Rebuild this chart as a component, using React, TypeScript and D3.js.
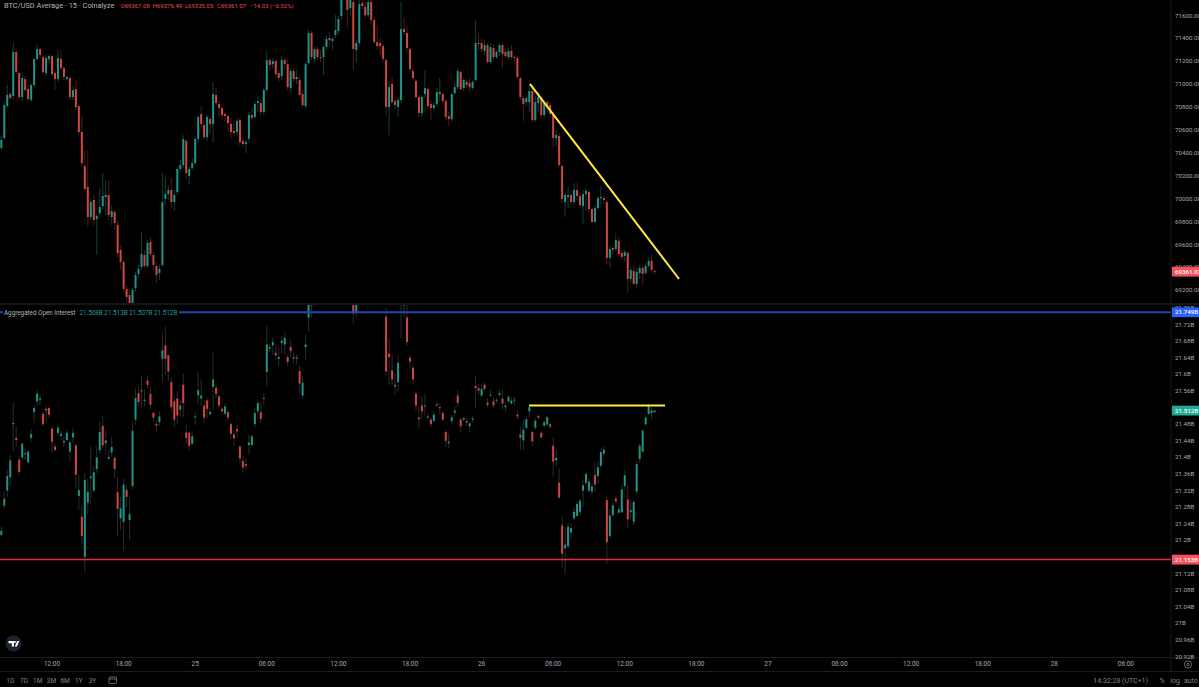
import React from "react";
import * as d3 from "d3";

type Ohlc = [number, number, number, number];

const WIDTH = 1199;
const HEIGHT = 687;

// open, high, low, close of each 15 minute bar
const priceBars: Ohlc[] = [
  [70440,70545,70422,70510],[70527,70840,70510,70815],[70807,70990,70789,70903],[70911,70930,70860,70876],[70894,71365,70860,71278],
  [71278,71295,71086,71103],[71095,71105,70860,70885],[70885,71103,70850,71051],[71042,71068,70930,70946],[70955,70990,70850,70868],
  [70859,71007,70841,70990],[70990,71226,70964,71217],[71217,71348,71208,71304],[71304,71322,71226,71252],[71234,71252,71086,71103],
  [71095,71252,71068,71226],[71217,71261,71191,71243],[71243,71252,71068,71086],[71095,71121,70946,71042],[71042,71295,71016,71226],
  [71217,71295,71121,71138],[71138,71156,71034,71060],[71042,71077,71025,71060],[71051,71068,70859,70885],[70885,70981,70859,70946],
  [70955,71034,70772,70798],[70807,70824,70562,70580],[70580,70728,70291,70309],[70283,70422,70073,70082],[70100,70422,69750,69837],
  [69837,70003,69811,69968],[69986,70030,69768,69811],[69820,69863,69506,69846],[69872,70090,69855,69925],[69933,70222,69899,70021],
  [70012,70160,69855,70030],[70030,70160,69811,69855],[69837,69942,69768,69890],[69881,69899,69724,69785],[69768,69811,69480,69523],
  [69550,69593,69375,69445],[69445,69462,69183,69209],[69209,69244,69095,69139],[69157,69200,69025,69060],[69060,69218,69043,69200],
  [69218,69358,69183,69331],[69340,69419,69305,69384],[69401,69707,69375,69515],[69506,69550,69393,69410],[69410,69637,69393,69610],
  [69620,69663,69497,69515],[69506,69532,69375,69419],[69410,69445,69262,69331],[69349,69419,69288,69384],[69419,70222,69401,69968],
  [69995,70186,69942,70038],[70038,70117,69986,70073],[70073,70178,69916,69968],[69968,70073,69890,70030],[70056,70274,70030,70257],
  [70257,70335,70230,70291],[70291,70553,70265,70519],[70501,70519,70169,70222],[70195,70283,70125,70257],[70266,70353,70248,70309],
  [70309,70545,70291,70519],[70519,70728,70492,70711],[70737,70807,70615,70650],[70641,70684,70519,70536],[70536,70728,70501,70711],
  [70693,70719,70562,70650],[70650,71016,70492,70911],[70903,70964,70807,70833],[70824,70859,70711,70789],[70789,70807,70684,70728],
  [70737,70754,70658,70719],[70719,70728,70580,70658],[70650,70702,70527,70580],[70588,70667,70545,70571],[70580,70702,70545,70676],
  [70684,70711,70457,70492],[70501,70527,70440,70475],[70475,70510,70396,70492],[70519,70754,70492,70728],[70728,70789,70684,70702],
  [70711,70850,70693,70824],[70833,70894,70754,70850],[70833,70859,70719,70754],[70754,70964,70728,70946],[70946,71295,70929,71208],
  [71208,71226,71121,71165],[71173,71226,71138,71199],[71199,71217,71051,71086],[71095,71121,71016,71051],[71068,71243,71034,71208],
  [71208,71234,71121,71173],[71173,71217,70946,70972],[70964,71138,70929,71112],[71112,71138,71016,71042],[71042,71121,70999,71060],
  [71034,71068,70885,70903],[70911,70946,70798,70815],[70807,71191,70789,71173],[71182,71470,71165,71444],[71444,71461,71208,71234],
  [71217,71330,71191,71304],[71304,71322,71208,71234],[71234,71295,71191,71226],[71234,71339,71077,71322],[71322,71426,71295,71392],
  [71400,71453,71339,71383],[71374,71409,71295,71392],[71426,71601,71400,71470],[71461,71601,71435,71566],[71592,71837,71557,71802],
  [71819,71860,71750,71758],[71749,71802,71488,71645],[71662,71802,71601,71758],[71715,71776,71121,71304],[71295,71383,71182,71357],
  [71357,71732,71330,71697],[71706,71767,71653,71680],[71671,71715,71575,71601],[71601,71758,71575,71715],[71715,71732,71514,71557],
  [71557,71584,71348,71365],[71365,71514,71295,71330],[71357,71400,71252,71330],[71330,71348,71191,71217],[71208,71226,70728,70798],
  [70798,71016,70553,70972],[70999,71060,70824,70841],[70850,70868,70772,70815],[70798,70885,70711,70859],[70859,71715,70833,71479],
  [71479,71584,71426,71453],[71444,71514,71278,71313],[71304,71322,71103,71130],[71112,71130,71034,71051],[71025,71042,70859,70885],
  [70885,70903,70711,70745],[70745,70903,70711,70885],[70911,71121,70876,70964],[70955,70972,70772,70807],[70824,70859,70684,70789],
  [70789,70841,70763,70815],[70824,70964,70807,70929],[70911,71051,70841,70929],[70911,70929,70833,70850],[70850,70868,70684,70711],
  [70719,70754,70632,70693],[70693,70920,70676,70911],[70920,71007,70903,70972],[70972,71130,70946,71112],[71103,71121,70938,70955],
  [70964,71051,70938,71034],[71016,71042,70964,70990],[71007,71051,70929,70972],[70964,71034,70946,71016],[71034,71557,71016,71357],
  [71357,71444,71295,71348],[71357,71400,71278,71304],[71287,71383,71252,71339],[71339,71357,71173,71191],[71191,71357,71173,71322],
  [71313,71348,71208,71234],[71234,71295,71217,71278],[71278,71357,71243,71339],[71339,71357,71138,71261],[71278,71304,71226,71243],
  [71234,71322,71208,71287],[71287,71339,71217,71234],[71234,71252,71191,71226],[71226,71243,71042,71060],[71051,71068,70859,70885],
  [70876,70894,70676,70824],[70841,70903,70807,70876],[70841,71000,70754,70938],[70938,70964,70667,70684],[70684,70894,70667,70841],
  [70833,70929,70754,70885],[70876,70894,70702,70728],[70728,70859,70711,70833],[70841,70859,70745,70807],[70815,70841,70702,70737],
  [70737,70754,70448,70527],[70527,70597,70457,70553],[70545,70571,70274,70291],[70283,70291,69960,69995],[69968,70047,69837,70030],
  [70012,70100,69916,70030],[70030,70073,69942,69968],[69968,70134,69942,70073],[70073,70134,69986,70021],[70021,70047,69916,69942],
  [69933,70073,69776,70038],[70038,70090,69899,70065],[70056,70073,69881,69907],[69907,69925,69785,69794],[69794,69942,69785,69916],
  [69916,70021,69899,70003],[70003,70108,69942,70012],[70003,70021,69951,69986],[69968,69986,69419,69480],[69480,69585,69393,69558],
  [69567,69593,69506,69550],[69558,69698,69532,69637],[69628,69663,69497,69515],[69523,69550,69462,69488],[69497,69550,69445,69532],
  [69523,69541,69174,69296],[69296,69401,69262,69375],[69366,69410,69244,69253],[69253,69393,69218,69358],[69349,69419,69296,69393],
  [69393,69410,69244,69340],[69349,69436,69331,69410],[69410,69480,69393,69454],[69454,69506,69349,69375],[69367.08,69376.49,69335.05,69361.07],
];

const oiBars: Ohlc[] = [
  [21.212,21.232,21.209,21.222],[21.283,21.317,21.276,21.299],[21.319,21.369,21.304,21.354],[21.351,21.405,21.329,21.392],[21.479,21.532,21.413,21.482],
  [21.446,21.474,21.425,21.441],[21.393,21.401,21.357,21.364],[21.399,21.435,21.393,21.432],[21.407,21.421,21.393,21.409],[21.387,21.417,21.385,21.413],
  [21.446,21.467,21.437,21.455],[21.508,21.526,21.482,21.518],[21.534,21.562,21.524,21.553],[21.538,21.550,21.524,21.541],[21.504,21.510,21.474,21.479],
  [21.516,21.522,21.482,21.512],[21.518,21.522,21.494,21.502],[21.468,21.474,21.411,21.437],[21.425,21.433,21.413,21.417],[21.458,21.478,21.451,21.471],
  [21.451,21.462,21.441,21.456],[21.435,21.450,21.425,21.439],[21.441,21.466,21.437,21.458],[21.413,21.440,21.389,21.435],[21.447,21.470,21.433,21.458],
  [21.428,21.432,21.325,21.357],[21.306,21.357,21.272,21.320],[21.256,21.284,21.188,21.210],[21.159,21.361,21.121,21.345],[21.290,21.349,21.264,21.316],
  [21.349,21.425,21.288,21.353],[21.319,21.377,21.314,21.363],[21.371,21.425,21.361,21.399],[21.416,21.486,21.408,21.460],[21.475,21.500,21.421,21.428],
  [21.433,21.466,21.405,21.440],[21.396,21.417,21.393,21.400],[21.411,21.448,21.401,21.424],[21.398,21.401,21.349,21.371],[21.315,21.353,21.209,21.275],
  [21.252,21.304,21.224,21.276],[21.244,21.349,21.174,21.333],[21.321,21.333,21.280,21.304],[21.248,21.304,21.201,21.262],[21.330,21.486,21.321,21.463],
  [21.490,21.566,21.478,21.542],[21.554,21.569,21.522,21.532],[21.561,21.596,21.520,21.558],[21.535,21.562,21.522,21.538],[21.584,21.596,21.566,21.574],
  [21.552,21.566,21.514,21.526],[21.506,21.510,21.486,21.495],[21.479,21.490,21.462,21.475],[21.484,21.510,21.475,21.498],[21.637,21.699,21.579,21.657],
  [21.669,21.714,21.599,21.637],[21.645,21.647,21.583,21.606],[21.581,21.591,21.510,21.520],[21.534,21.546,21.472,21.490],[21.541,21.558,21.478,21.500],
  [21.514,21.538,21.498,21.524],[21.574,21.601,21.496,21.530],[21.459,21.478,21.433,21.446],[21.458,21.462,21.417,21.427],[21.432,21.462,21.429,21.450],
  [21.496,21.510,21.478,21.498],[21.549,21.604,21.526,21.561],[21.541,21.587,21.522,21.548],[21.524,21.538,21.483,21.495],[21.536,21.542,21.494,21.516],
  [21.503,21.518,21.498,21.509],[21.569,21.655,21.514,21.587],[21.567,21.574,21.542,21.552],[21.546,21.550,21.518,21.524],[21.516,21.522,21.502,21.510],
  [21.504,21.529,21.498,21.522],[21.508,21.514,21.490,21.495],[21.479,21.483,21.446,21.456],[21.454,21.466,21.425,21.445],[21.467,21.478,21.446,21.462],
  [21.425,21.429,21.385,21.397],[21.390,21.401,21.362,21.375],[21.383,21.395,21.369,21.379],[21.429,21.454,21.405,21.435],[21.429,21.454,21.425,21.450],
  [21.479,21.518,21.470,21.506],[21.510,21.538,21.502,21.530],[21.508,21.534,21.482,21.492],[21.540,21.554,21.526,21.542],[21.605,21.716,21.572,21.671],
  [21.661,21.671,21.651,21.665],[21.669,21.687,21.647,21.677],[21.651,21.671,21.635,21.645],[21.636,21.663,21.619,21.641],[21.675,21.691,21.647,21.680],
  [21.671,21.699,21.647,21.687],[21.641,21.647,21.619,21.629],[21.665,21.683,21.639,21.655],[21.637,21.651,21.623,21.640],[21.640,21.647,21.623,21.637],
  [21.607,21.619,21.554,21.577],[21.548,21.595,21.540,21.579],[21.665,21.695,21.633,21.671],[21.736,21.796,21.703,21.770],[21.765,21.788,21.738,21.769],
  [21.767,21.780,21.764,21.770],[21.79,21.81,21.78,21.80],[21.80,21.83,21.79,21.82],[21.82,21.85,21.81,21.84],[21.84,21.87,21.83,21.86],
  [21.86,21.88,21.84,21.85],[21.85,21.89,21.84,21.88],[21.88,21.91,21.87,21.90],[21.90,21.92,21.88,21.89],[21.89,21.93,21.88,21.92],
  [21.92,21.94,21.90,21.91],[21.91,21.92,21.87,21.88],[21.88,21.89,21.84,21.85],[21.776,21.784,21.720,21.746],[21.748,21.780,21.738,21.776],
  [21.79,21.82,21.785,21.81],[21.81,21.84,21.80,21.83],[21.83,21.85,21.81,21.82],[21.82,21.86,21.81,21.85],[21.85,21.87,21.83,21.84],
  [21.84,21.85,21.81,21.82],[21.82,21.83,21.80,21.81],[21.81,21.82,21.79,21.80],[21.80,21.81,21.785,21.79],[21.738,21.760,21.596,21.606],
  [21.649,21.687,21.574,21.641],[21.609,21.647,21.574,21.587],[21.574,21.603,21.550,21.570],[21.580,21.647,21.558,21.627],[21.776,21.796,21.685,21.784],
  [21.765,21.784,21.736,21.770],[21.736,21.770,21.669,21.677],[21.639,21.647,21.612,21.630],[21.615,21.623,21.577,21.587],[21.552,21.558,21.512,21.524],
  [21.495,21.522,21.468,21.491],[21.524,21.546,21.490,21.510],[21.522,21.554,21.500,21.524],[21.495,21.506,21.488,21.498],[21.490,21.496,21.472,21.479],
  [21.487,21.510,21.482,21.502],[21.527,21.534,21.520,21.524],[21.520,21.530,21.502,21.519],[21.506,21.510,21.488,21.490],[21.460,21.466,21.425,21.439],
  [21.433,21.458,21.421,21.437],[21.487,21.502,21.480,21.496],[21.507,21.522,21.498,21.512],[21.548,21.562,21.520,21.530],[21.490,21.494,21.459,21.474],
  [21.490,21.496,21.486,21.494],[21.487,21.494,21.475,21.483],[21.474,21.486,21.461,21.481],[21.490,21.500,21.483,21.493],[21.571,21.596,21.518,21.566],
  [21.566,21.577,21.550,21.560],[21.548,21.574,21.546,21.564],[21.574,21.579,21.558,21.564],[21.531,21.542,21.520,21.526],[21.549,21.562,21.545,21.550],
  [21.534,21.542,21.518,21.524],[21.537,21.542,21.529,21.538],[21.549,21.562,21.546,21.554],[21.541,21.561,21.514,21.529],[21.520,21.530,21.510,21.524],
  [21.534,21.548,21.530,21.545],[21.529,21.542,21.526,21.536],[21.537,21.545,21.526,21.538],[21.502,21.512,21.491,21.498],[21.454,21.474,21.417,21.446],
  [21.440,21.490,21.417,21.466],[21.470,21.498,21.466,21.491],[21.510,21.526,21.496,21.520],[21.460,21.464,21.425,21.438],[21.471,21.494,21.466,21.487],
  [21.499,21.502,21.490,21.495],[21.458,21.462,21.446,21.447],[21.475,21.488,21.472,21.484],[21.478,21.500,21.474,21.496],[21.479,21.482,21.467,21.473],
  [21.427,21.447,21.354,21.389],[21.392,21.419,21.377,21.398],[21.338,21.373,21.300,21.302],[21.235,21.256,21.134,21.167],[21.180,21.232,21.117,21.189],
  [21.185,21.242,21.180,21.232],[21.218,21.240,21.204,21.229],[21.252,21.280,21.248,21.268],[21.258,21.292,21.256,21.287],[21.268,21.298,21.260,21.295],
  [21.319,21.345,21.279,21.332],[21.337,21.365,21.333,21.359],[21.319,21.349,21.314,21.341],[21.317,21.337,21.308,21.329],[21.357,21.387,21.314,21.334],
  [21.354,21.389,21.335,21.375],[21.379,21.421,21.373,21.412],[21.408,21.425,21.401,21.417],[21.296,21.304,21.142,21.195],[21.209,21.274,21.206,21.259],
  [21.260,21.292,21.256,21.284],[21.300,21.308,21.288,21.293],[21.266,21.282,21.263,21.274],[21.267,21.333,21.264,21.322],[21.330,21.369,21.321,21.356],
  [21.298,21.333,21.228,21.250],[21.267,21.296,21.252,21.272],[21.244,21.296,21.236,21.292],[21.317,21.393,21.308,21.383],[21.395,21.433,21.385,21.427],
  [21.413,21.467,21.411,21.463],[21.479,21.502,21.475,21.495],[21.504,21.529,21.502,21.524],[21.506,21.520,21.491,21.512],[21.508,21.513,21.507,21.512],
];

const priceTicks = d3.range(69200, 71800, 200);
const oiTicks = [21.76,21.72,21.68,21.64,21.6,21.56,21.52,21.48,21.44,21.4,21.36,21.32,21.28,21.24,21.2,21.16,21.12,21.08,21.04,21,20.96,20.92];
const timeBars = [17,41,65,89,113,137,161,185,209,233,257,281,305,329,353,377];
const timeLabels = ["12:00","18:00","25","06:00","12:00","18:00","26","06:00","12:00","18:00","27","06:00","12:00","18:00","28","06:00"];
const ranges = ["1D","7D","1M","3M","6M","1Y","3Y"];
const legendValues = ["O69367.08","H69376.49","L69335.05","C69361.07"];

// drawn lines: [bar, value]
const priceTrend: [number, number][] = [[177.2, 71000], [227.2, 69296]];
const oiTrend: [number, number][] = [[176.9, 21.524], [222.5, 21.524]];
const oiResistance = 21.749;
const oiSupport = 21.153;

const UP = "#1f9488";
const DOWN = "#cf4744";
const FONT = "Roboto, sans-serif";
const AXIS_X = 1171;
const LABEL_SIZE = 6.2;

const x = d3.scaleLinear().domain([0, 219]).range([1.3, 654.6]);
const yPrice = d3.scaleLinear().domain([69200, 71600]).range([290, 15.2]);
const yOi = d3.scaleLinear().domain([21, 21.76]).range([623, 307.6]);

const Candles = ({ bars, y, wickUp, wickDown }: {
  bars: Ohlc[];
  y: d3.ScaleLinear<number, number>;
  wickUp: string;
  wickDown: string;
}) => (
  <g>
    {bars.map(([o, h, l, c], i) => {
      const up = c >= o;
      const top = y(Math.max(o, c));
      const bodyH = Math.max(1, y(Math.min(o, c)) - top);
      return (
        <g key={i}>
          <line x1={x(i)} x2={x(i)} y1={y(h)} y2={y(l)} stroke={up ? wickUp : wickDown} strokeWidth={1} />
          <rect x={x(i) - 1} y={top} width={2} height={bodyH} fill={up ? UP : DOWN} />
        </g>
      );
    })}
  </g>
);

const trendLine = (pts: [number, number][], y: d3.ScaleLinear<number, number>) =>
  d3.line<[number, number]>().x(d => x(d[0])).y(d => y(d[1]))(pts) ?? "";

const PriceTag = ({ y, text, fill }: { y: number; text: string; fill: string }) => (
  <g>
    <rect x={AXIS_X + 1} y={y - 4.8} width={WIDTH - AXIS_X} height={9.8} fill={fill} />
    <text x={1175} y={y + 2.3} fill="#fff" fontSize={LABEL_SIZE} fontWeight={500}>{text}</text>
  </g>
);

export default function App() {
  return (
    <svg
      width={WIDTH}
      height={HEIGHT}
      style={{ position: "fixed", left: 0, top: 0, background: "#000", fontFamily: FONT }}
    >
      <defs>
        <clipPath id="price-pane"><rect x={0} y={0} width={AXIS_X} height={303} /></clipPath>
        <clipPath id="oi-pane"><rect x={0} y={305} width={AXIS_X} height={352} /></clipPath>
      </defs>

      <g clipPath="url(#price-pane)">
        <Candles bars={priceBars} y={yPrice} wickUp="#0f3f3b" wickDown="#4a1c1c" />
        <path d={trendLine(priceTrend, yPrice)} stroke="#ffeb3b" strokeWidth={2} fill="none" />
      </g>

      <g clipPath="url(#oi-pane)">
        <Candles bars={oiBars} y={yOi} wickUp="#2b2b2b" wickDown="#2b2b2b" />
        <line x1={0} x2={AXIS_X} y1={yOi(oiResistance)} y2={yOi(oiResistance)} stroke="#1f47b0" strokeWidth={2} />
        <line x1={0} x2={AXIS_X} y1={yOi(oiSupport)} y2={yOi(oiSupport)} stroke="#e0303e" strokeWidth={1.4} />
        <path d={trendLine(oiTrend, yOi)} stroke="#ffeb3b" strokeWidth={2} fill="none" />
      </g>

      {/* pane frames */}
      <line x1={0} x2={WIDTH} y1={304} y2={304} stroke="#1c1c1f" strokeWidth={1.5} />
      <line x1={AXIS_X} x2={AXIS_X} y1={0} y2={671} stroke="#1c1c1f" />
      <line x1={0} x2={WIDTH} y1={657.5} y2={657.5} stroke="#1c1c1f" />
      <line x1={0} x2={WIDTH} y1={671.5} y2={671.5} stroke="#1c1c1f" />

      {/* value axes */}
      <g fill="#a6a9b2" fontSize={LABEL_SIZE}>
        {priceTicks.map(t => (
          <text key={t} x={1175} y={yPrice(t) + 2.3}>{t.toFixed(2)}</text>
        ))}
        {oiTicks.map(t => (
          <text key={t} x={1175} y={yOi(t) + 2.3}>{`${+t.toFixed(2)}B`}</text>
        ))}
      </g>
      <PriceTag y={yPrice(69361.07)} text="69361.07" fill="#f7525f" />
      <PriceTag y={yOi(oiResistance)} text="21.749B" fill="#2962ff" />
      <PriceTag y={yOi(21.512)} text="21.512B" fill="#22ab94" />
      <PriceTag y={yOi(oiSupport)} text="21.153B" fill="#f7525f" />

      {/* time axis */}
      <g fill="#a6a9b2" fontSize={6.5} textAnchor="middle">
        {timeLabels.map((t, i) => (
          <text key={i} x={x(timeBars[i])} y={666.4}>{t}</text>
        ))}
      </g>

      {/* legends */}
      <text x={4} y={7.5} fill="#b2b5be" fontSize={7.4}>BTC/USD Average · 15 · Coinalyze</text>
      <g fontSize={6} fill="#e0524f">
        {legendValues.map((v, i) => (
          <text key={v} x={120.5 + i * 32.2} y={7.5}>{v}</text>
        ))}
        <text x={250} y={7.5}>−14.03 (−0.02%)</text>
      </g>
      <rect x={3} y={307.5} width={176} height={9} fill="#000" />
      <text x={4} y={314.8} fill="#b2b5be" fontSize={6.3}>Aggregated Open Interest</text>
      <text x={79.5} y={314.8} fill="#1f9f92" fontSize={6.3}>21.508B 21.513B 21.507B 21.512B</text>

      {/* TradingView badge */}
      <circle cx={13.5} cy={643.5} r={8} fill="#1b2230" />
      <path d="M8.5 641h5.5v5.5h-2.2v-3.3h-3.3z M14.8 646.5l2.3-5.5h2.2l-2.4 5.5z" fill="#fff" />
      <circle cx={15} cy={642} r={1} fill="#fff" />

      {/* bottom toolbar */}
      <g fill="#7f828b" fontSize={6.5} textAnchor="middle">
        {ranges.map((r, i) => (
          <text key={r} x={10.3 + i * 13.7} y={682.5}>{r}</text>
        ))}
      </g>
      <g stroke="#7f828b" fill="none" strokeWidth={0.8}>
        <rect x={109} y={677} width={7.5} height={6.5} rx={1} />
        <line x1={109} x2={116.5} y1={679} y2={679} />
      </g>
      <text x={1148} y={682.5} fill="#7f828b" fontSize={7} textAnchor="end">14:32:28 (UTC+1)</text>
      <g fill="#7f828b" fontSize={7} textAnchor="middle">
        <text x={1162} y={682.5}>%</text>
        <text x={1175} y={682.5}>log</text>
        <text x={1191} y={682.5}>auto</text>
      </g>
      <circle cx={1188} cy={664.5} r={3.6} fill="none" stroke="#7f828b" strokeWidth={0.8} />
      <circle cx={1188} cy={664.5} r={1.2} fill="none" stroke="#7f828b" strokeWidth={0.8} />
    </svg>
  );
}
